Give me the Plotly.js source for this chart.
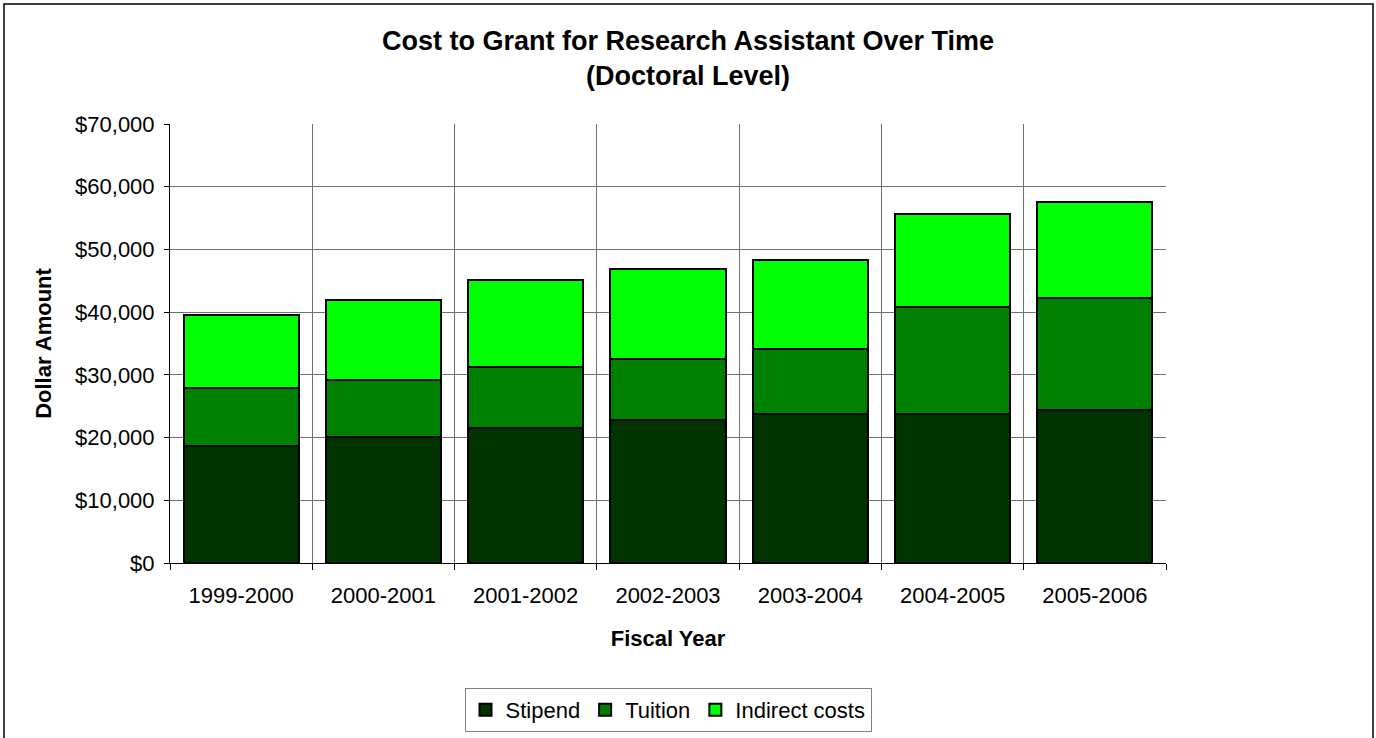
<!DOCTYPE html>
<html>
<head>
<meta charset="utf-8">
<script src="https://cdn.plot.ly/plotly-3.0.1.min.js"></script>
<style>
  html, body { margin: 0; padding: 0; background: #ffffff; }
  #chart { width: 1376px; height: 738px; }
</style>
</head>
<body>
<div id="chart"></div>
<script>
// Fiscal years on the category axis
const fiscalYears = ['1999-2000', '2000-2001', '2001-2002', '2002-2003', '2003-2004', '2004-2005', '2005-2006'];

// Cost components per year, in dollars
const stipend  = [18700, 20100, 21500, 22800, 23800, 23800, 24400];
const tuition  = [9200, 9100, 9700, 9700, 10400, 17100, 17800];
const indirect = [11600, 12700, 14000, 14400, 14100, 14800, 15400];

const seriesNames = ['Stipend', 'Tuition', 'Indirect costs'];
const seriesColors = ['#003300', '#008000', '#00FF00'];

const FONT = 'Liberation Sans, Arial, sans-serif';

const traces = [stipend, tuition, indirect].map((vals, i) => ({
  type: 'bar',
  name: seriesNames[i],
  x: fiscalYears,
  y: vals,
  marker: { color: seriesColors[i], line: { color: '#000000', width: 2 } },
  hoverinfo: 'x+y+name'
}));

// Plot area: 170..1166 px horizontally, 124..563 px vertically
const L = 170, R = 210, T = 124, B = 175;
const W = 1376, H = 738;
const pw = W - L - R, ph = H - T - B;
const px = v => (v - L) / pw;           // pixel x -> paper x
const py = v => (H - B - v) / ph;       // pixel y -> paper y

const layout = {
  width: W,
  height: H,
  margin: { l: L, r: R, t: T, b: B, pad: 0 },
  paper_bgcolor: '#ffffff',
  plot_bgcolor: '#ffffff',
  barmode: 'stack',
  bargap: 0.19,
  showlegend: true,
  font: { family: FONT, size: 22, color: '#000000' },
  title: {
    text: 'Cost to Grant for Research Assistant Over Time<br>(Doctoral Level)',
    font: { family: FONT, size: 27, weight: 'bold', color: '#000000' },
    x: 0.5,
    xref: 'container',
    xanchor: 'center',
    y: 1 - 50 / H,
    yref: 'container',
    yanchor: 'top'
  },
  xaxis: {
    type: 'category',
    tickson: 'boundaries',
    ticks: 'outside',
    ticklen: 6,
    tickcolor: '#000000',
    ticklabelstandoff: 13,
    showline: true,
    linecolor: '#000000',
    linewidth: 1,
    showgrid: true,
    gridcolor: '#707070',
    gridwidth: 1,
    automargin: false,
    tickfont: { family: FONT, size: 22, color: '#000000' },
    title: {
      text: 'Fiscal Year',
      font: { family: FONT, size: 22, weight: 'bold', color: '#000000' },
      standoff: 23
    }
  },
  yaxis: {
    range: [0, 70000],
    dtick: 10000,
    tick0: 0,
    tickprefix: '$',
    tickformat: ',d',
    ticks: 'outside',
    ticklen: 5,
    tickcolor: '#000000',
    ticklabelstandoff: 5,
    showline: true,
    linecolor: '#000000',
    linewidth: 1,
    showgrid: true,
    gridcolor: '#707070',
    gridwidth: 1,
    zeroline: false,
    automargin: false,
    tickfont: { family: FONT, size: 22, color: '#000000' },
    title: {
      text: 'Dollar Amount',
      font: { family: FONT, size: 22, weight: 'bold', color: '#000000' },
      standoff: 17
    }
  },
  legend: {
    orientation: 'h',
    traceorder: 'normal',
    x: 0.5,
    xref: 'paper',
    xanchor: 'center',
    y: 1 - 688 / H,
    yref: 'container',
    yanchor: 'top',
    bgcolor: '#ffffff',
    bordercolor: '#808080',
    borderwidth: 1,
    font: { family: FONT, size: 22, color: '#000000' },
    itemclick: false,
    itemdoubleclick: false
  },
  shapes: [
    {
      // frame around the whole chart
      type: 'rect',
      xref: 'paper', yref: 'paper',
      x0: px(4), x1: px(1373),
      y0: py(760), y1: py(4),
      line: { color: '#000000', width: 1.5 },
      fillcolor: 'rgba(0,0,0,0)',
      layer: 'below'
    }
  ]
};

Plotly.newPlot('chart', traces, layout, { displayModeBar: false, staticPlot: true });
</script>
</body>
</html>
